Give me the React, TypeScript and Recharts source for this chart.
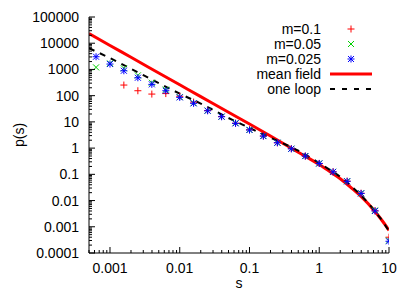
import React from 'react';
import { ComposedChart, Line, Scatter, XAxis, YAxis, Legend } from 'recharts';

// avalanche sizes (log spaced, 0.2 decade) and measured p(s) per mass
const sizes = [0.000631, 0.001, 0.00158, 0.00251, 0.00398, 0.00631, 0.01, 0.0158, 0.0251, 0.0398, 0.0631, 0.1, 0.158, 0.251, 0.398, 0.631, 1, 1.58, 2.51, 3.98, 6.31, 10];
const probM01 = [null, null, 254, 154, 115, 120, 95, 57, 27, 16, 8.9, 5, 2.9, 1.6, 0.95, 0.5, 0.26, 0.125, 0.055, 0.019, 0.0041, 0.0004];
const probM005 = [1200, 1700, 1100, 594, 311, 170, 88, 52, 27, 16, 9, 5, 2.9, 1.6, 0.95, 0.5, 0.26, 0.125, 0.055, 0.019, 0.0042, 0.0003];
const probM0025 = [3055, 1607, 891, 482, 270, 154, 86, 51, 26.5, 15.7, 8.8, 4.9, 2.87, 1.6, 0.94, 0.495, 0.26, 0.124, 0.054, 0.0187, 0.004, 0.00028];

// theory curves
const curveS = [0.0005, 0.001, 0.002, 0.005, 0.01, 0.02, 0.05, 0.1, 0.2, 0.5, 1, 1.5, 2, 3, 4, 5, 6, 7, 8, 9, 10];
const meanField = [23200, 8220, 2900, 735, 260, 92, 23.2, 8.3, 2.9, 0.7, 0.235, 0.115, 0.068, 0.028, 0.0142, 0.0077, 0.0044, 0.0027, 0.0017, 0.0011, 0.00073];
const oneLoop = [6450, 2700, 1060, 302, 119, 50, 14.1, 5.9, 2.48, 0.8, 0.27, 0.135, 0.08, 0.032, 0.0155, 0.0081, 0.0046, 0.0027, 0.0017, 0.00105, 0.00068];

const xTicks = [0.001, 0.01, 0.1, 1, 10];
const xTickLabels = ['0.001', '0.01', '0.1', '1', '10'];
const yTicks = [0.0001, 0.001, 0.01, 0.1, 1, 10, 100, 1000, 10000, 100000];
const yTickLabels = ['0.0001', '0.001', '0.01', '0.1', '1', '10', '100', '1000', '10000', '100000'];

const X_DOMAIN = [0.0005, 10];
const Y_DOMAIN = [0.0001, 100000];
const FONT = '"Liberation Sans", Arial, Helvetica, sans-serif';

const toPoints = (xs: number[], ys: (number | null)[]) =>
  xs.map((s, i) => ({ s, p: ys[i] })).filter((d) => d.p != null);

const m01Data = toPoints(sizes, probM01);
const m005Data = toPoints(sizes, probM005);
const m0025Data = toPoints(sizes, probM0025);
const meanFieldData = toPoints(curveS, meanField);
const oneLoopData = toPoints(curveS, oneLoop);

// major + minor (2..9) ticks inside a domain
function logTicks(lo: number, hi: number) {
  const out: number[] = [];
  for (let d = Math.floor(Math.log10(lo)); d <= Math.ceil(Math.log10(hi)); d++) {
    for (let k = 1; k <= 9; k++) {
      const v = k * Math.pow(10, d);
      if (v >= lo * 0.999999 && v <= hi * 1.000001) out.push(v);
    }
  }
  return out;
}
const xAllTicks = logTicks(X_DOMAIN[0], X_DOMAIN[1]);
const yAllTicks = logTicks(Y_DOMAIN[0], Y_DOMAIN[1]);

type Side = 'bottom' | 'top' | 'left' | 'right';

function makeTick(side: Side, majors: number[], labels: string[]) {
  return (props: any) => {
    const { x, y, payload } = props;
    const v = Number(payload.value);
    const idx = majors.findIndex((m) => Math.abs(v / m - 1) < 1e-6);
    const len = idx >= 0 ? 6 : 3;
    let line = null;
    let text = null;
    if (side === 'bottom') {
      line = <line x1={x} y1={y} x2={x} y2={y - len} stroke="#000" />;
      if (idx >= 0)
        text = (
          <text x={x} y={y + 20} textAnchor="middle" fontSize={14} fontFamily={FONT} fill="#000">
            {labels[idx]}
          </text>
        );
    } else if (side === 'top') {
      line = <line x1={x} y1={y} x2={x} y2={y + len} stroke="#000" />;
    } else if (side === 'left') {
      line = <line x1={x} y1={y} x2={x + len} y2={y} stroke="#000" />;
      if (idx >= 0)
        text = (
          <text x={x - 10} y={y + 5} textAnchor="end" fontSize={14} fontFamily={FONT} fill="#000">
            {labels[idx]}
          </text>
        );
    } else {
      line = <line x1={x} y1={y} x2={x - len} y2={y} stroke="#000" />;
    }
    return (
      <g>
        {line}
        {text}
      </g>
    );
  };
}

const PlusMark = ({ cx, cy }: any) => (
  <g stroke="#ff0000" strokeWidth={1}>
    <line x1={cx - 3.5} y1={cy} x2={cx + 3.5} y2={cy} />
    <line x1={cx} y1={cy - 3.5} x2={cx} y2={cy + 3.5} />
  </g>
);

const CrossMark = ({ cx, cy }: any) => (
  <g stroke="#00d000" strokeWidth={1}>
    <line x1={cx - 3} y1={cy - 3} x2={cx + 3} y2={cy + 3} />
    <line x1={cx - 3} y1={cy + 3} x2={cx + 3} y2={cy - 3} />
  </g>
);

const StarMark = ({ cx, cy }: any) => (
  <g stroke="#0000ff" strokeWidth={1}>
    <line x1={cx - 3.5} y1={cy} x2={cx + 3.5} y2={cy} />
    <line x1={cx} y1={cy - 3.5} x2={cx} y2={cy + 3.5} />
    <line x1={cx - 3} y1={cy - 3} x2={cx + 3} y2={cy + 3} />
    <line x1={cx - 3} y1={cy + 3} x2={cx + 3} y2={cy - 3} />
  </g>
);

const legendRows = [
  { label: 'm=0.1', kind: 'plus' },
  { label: 'm=0.05', kind: 'cross' },
  { label: 'm=0.025', kind: 'star' },
  { label: 'mean field', kind: 'solid' },
  { label: 'one loop', kind: 'dashed' },
];

const KeyBox = () => (
  <svg width={160} height={90} style={{ display: 'block' }}>
    {legendRows.map((r, i) => {
      const cy = 15 + i * 15;
      let sym = null;
      if (r.kind === 'plus') sym = <PlusMark cx={121} cy={cy} />;
      else if (r.kind === 'cross') sym = <CrossMark cx={121} cy={cy} />;
      else if (r.kind === 'star') sym = <StarMark cx={121} cy={cy} />;
      else if (r.kind === 'solid') sym = <line x1={100} y1={cy} x2={142} y2={cy} stroke="#ff0000" strokeWidth={3} />;
      else sym = <line x1={100} y1={cy} x2={142} y2={cy} stroke="#000" strokeWidth={2} strokeDasharray="5 7" />;
      return (
        <g key={r.label}>
          <text x={91} y={cy + 5} textAnchor="end" fontSize={14} fontFamily={FONT} fill="#000">
            {r.label}
          </text>
          {sym}
        </g>
      );
    })}
  </svg>
);

export default function App() {
  return (
    <div style={{ width: 407, height: 283, position: 'relative' }}>
      <ComposedChart width={407} height={283} margin={{ top: 9, right: 26, bottom: 0, left: 0 }}>
        <XAxis
          xAxisId="b"
          dataKey="s"
          type="number"
          scale="log"
          domain={X_DOMAIN}
          allowDataOverflow
          ticks={xAllTicks}
          interval={0}
          height={38}
          tickSize={0}
          tickMargin={0}
          tickLine={false}
          axisLine={{ stroke: '#000' }}
          tick={makeTick('bottom', xTicks, xTickLabels)}
          label={(p: any) => {
            const vb = p.viewBox;
            return (
              <text x={vb.x + vb.width / 2} y={vb.y + 35} textAnchor="middle" fontSize={14} fontFamily={FONT} fill="#000">
                s
              </text>
            );
          }}
        />
        <XAxis
          xAxisId="t"
          orientation="top"
          dataKey="s"
          type="number"
          scale="log"
          domain={X_DOMAIN}
          allowDataOverflow
          ticks={xAllTicks}
          interval={0}
          height={0}
          tickSize={0}
          tickMargin={0}
          tickLine={false}
          axisLine={{ stroke: '#000' }}
          tick={makeTick('top', xTicks, xTickLabels)}
        />
        <YAxis
          yAxisId="l"
          dataKey="p"
          type="number"
          scale="log"
          domain={Y_DOMAIN}
          allowDataOverflow
          ticks={yAllTicks}
          interval={0}
          width={81}
          tickSize={0}
          tickMargin={0}
          tickLine={false}
          axisLine={{ stroke: '#000' }}
          tick={makeTick('left', yTicks, yTickLabels)}
          label={(p: any) => {
            const vb = p.viewBox;
            const cx = vb.x + 16;
            const cy = vb.y + vb.height / 2;
            return (
              <text x={cx} y={cy} transform={`rotate(-90, ${cx}, ${cy})`} textAnchor="middle" fontSize={14} fontFamily={FONT} fill="#000">
                p(s)
              </text>
            );
          }}
        />
        <YAxis
          yAxisId="r"
          orientation="right"
          dataKey="p"
          type="number"
          scale="log"
          domain={Y_DOMAIN}
          allowDataOverflow
          ticks={yAllTicks}
          interval={0}
          width={0}
          tickSize={0}
          tickMargin={0}
          tickLine={false}
          axisLine={{ stroke: '#000' }}
          tick={makeTick('right', yTicks, yTickLabels)}
        />
        <Scatter xAxisId="b" yAxisId="l" name="m=0.1" data={m01Data} dataKey="p" shape={PlusMark} isAnimationActive={false} />
        <Scatter xAxisId="b" yAxisId="l" name="m=0.05" data={m005Data} dataKey="p" shape={CrossMark} isAnimationActive={false} />
        <Scatter xAxisId="b" yAxisId="l" name="m=0.025" data={m0025Data} dataKey="p" shape={StarMark} isAnimationActive={false} />
        <Line xAxisId="b" yAxisId="l" name="mean field" data={meanFieldData} dataKey="p" type="monotone" stroke="#ff0000" strokeWidth={3} dot={false} isAnimationActive={false} />
        <Line xAxisId="b" yAxisId="l" name="one loop" data={oneLoopData} dataKey="p" type="monotone" stroke="#000" strokeWidth={2} strokeDasharray="6 6" dot={false} isAnimationActive={false} />
        <Legend
          layout="horizontal"
          verticalAlign="middle"
          align="center"
          wrapperStyle={{ left: 222, top: 6, width: 160, height: 90 }}
          content={() => <KeyBox />}
        />
      </ComposedChart>
    </div>
  );
}
